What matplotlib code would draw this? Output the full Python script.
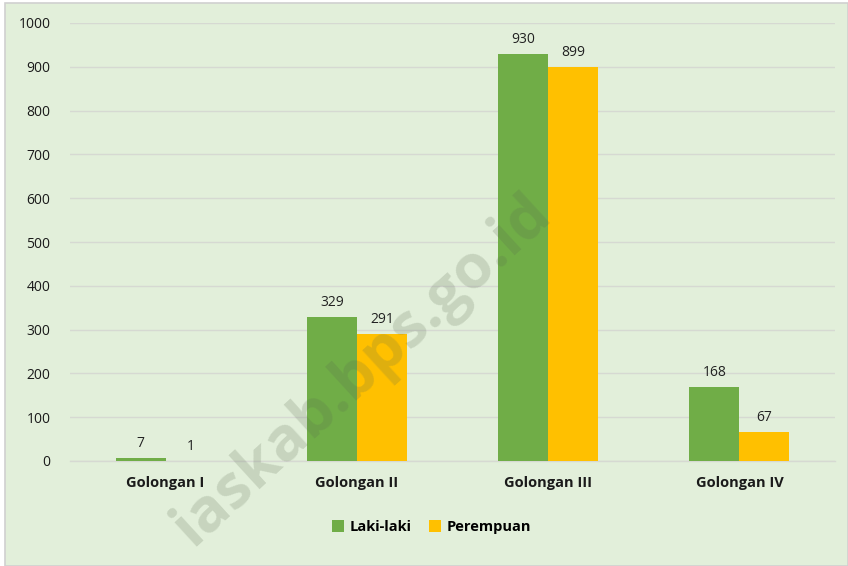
import matplotlib
matplotlib.use("Agg")
import matplotlib.pyplot as plt
import numpy as np
from matplotlib.patches import Rectangle

categories = ["Golongan I", "Golongan II", "Golongan III", "Golongan IV"]
laki = [7, 329, 930, 168]
perempuan = [1, 291, 899, 67]
series_names = ["Laki-laki", "Perempuan"]
yticks = [0, 100, 200, 300, 400, 500, 600, 700, 800, 900, 1000]

plt.rcParams['font.family'] = ['Open Sans', 'DejaVu Sans']

bg = "#E2EFDA"
green = "#70AD47"
yellow = "#FFC000"

fig = plt.figure(figsize=(8.48, 5.66), dpi=100)
fig.patch.set_facecolor("white")
fig.patches.append(Rectangle((5/848, 0), 843/848, 563/566, transform=fig.transFigure,
                             facecolor=bg, edgecolor="#D0D0D0", linewidth=1.2, zorder=-10))

ax = fig.add_axes([70/848, 1 - 461/566, 765/848, 438/566])
ax.set_facecolor("none")
x = np.arange(len(categories))
w = 0.262
b1 = ax.bar(x - w/2, laki, w, color=green, label=series_names[0], zorder=3)
b2 = ax.bar(x + w/2, perempuan, w, color=yellow, label=series_names[1], zorder=3)
for bars, vals in ((b1, laki), (b2, perempuan)):
    for r, v in zip(bars, vals):
        ax.annotate(str(v), (r.get_x() + r.get_width()/2, v), xytext=(0, 5),
                    textcoords="offset points", ha="center", va="bottom",
                    fontsize=10, color="#222222")

ax.set_xlim(-0.5, 3.5)
ax.set_ylim(0, 1000)
ax.set_yticks(yticks)
ax.set_xticks(x)
ax.set_xticklabels(categories, fontsize=10.5, fontweight="bold", color="#1a1a1a")
ax.tick_params(axis="y", labelsize=10, colors="#1a1a1a", length=0, pad=14)
ax.tick_params(axis="x", length=0, pad=11)
ax.grid(axis="y", color="#D6D9D2", linewidth=1, zorder=0)
for s in ["top", "right", "left"]:
    ax.spines[s].set_visible(False)
ax.spines["bottom"].set_color("#D6D9D2")
ax.spines["bottom"].set_linewidth(1)

leg = fig.legend(handles=[b1, b2], labels=series_names, loc="center",
                 bbox_to_anchor=(432/848, 1 - 527/566), ncol=2, frameon=False,
                 prop={"weight": "bold", "size": 10.5}, handlelength=0.8, handleheight=0.8,
                 columnspacing=1.2, handletextpad=0.4)

fig.text(362/848, 1 - 370/566, "iaskab.bps.go.id", rotation=42.5, fontsize=44,
         fontweight="bold", color="#5a6a50", alpha=0.2, ha="center", va="center",
         rotation_mode="anchor", zorder=10)

fig.savefig("out.png", dpi=100, facecolor="white")
